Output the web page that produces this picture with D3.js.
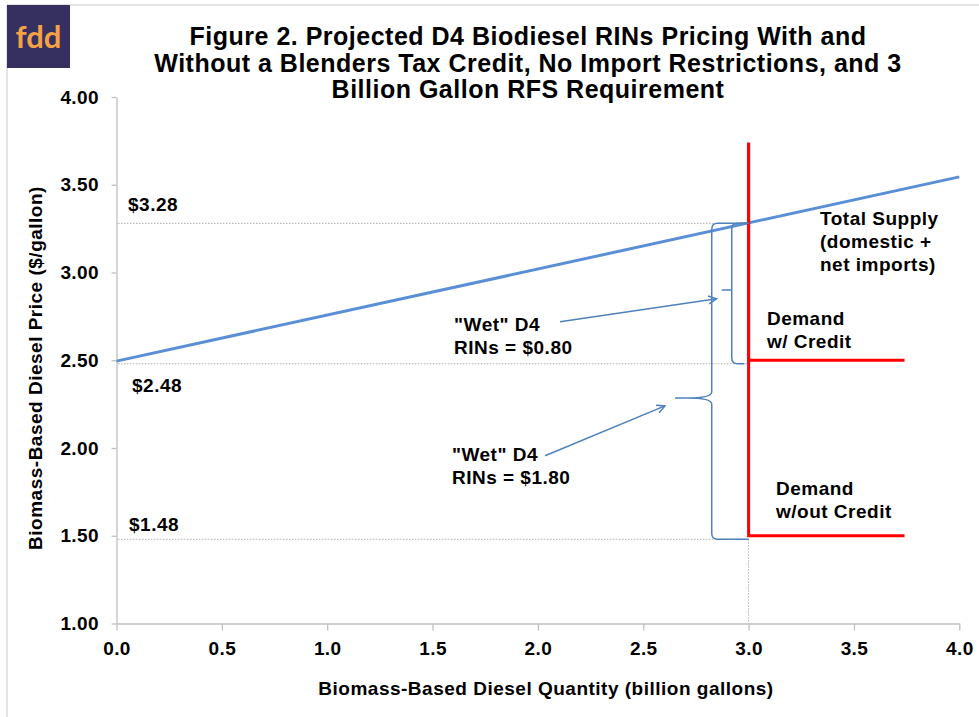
<!DOCTYPE html>
<html lang="en">
  <head>
    <meta charset="UTF-8" />
    <title>Figure 2</title>
    <script src="https://cdn.jsdelivr.net/npm/d3@7"></script>
    <style>
      body { margin: 0; background: #fff; }
      svg { display: block; font-family: "Liberation Sans", Arial, sans-serif; }
      .axis text { font-size: 19px; font-weight: bold; fill: #000; letter-spacing: 0.4px; }
      .axis path, .axis line { stroke: #bfbfbf; stroke-width: 1.3; }
      .note { font-size: 19px; font-weight: bold; fill: #000; letter-spacing: 0.5px; }
    </style>
  </head>
  <body>
    <svg width="979" height="717"></svg>
    <script>
      // data
      const supplyQty = [0, 4];
      const supplyPrice = [2.495, 3.545];
      const demandWithCredit = [[3.0, 3.74], [3.0, 2.5], [3.74, 2.5]];
      const demandWithoutCredit = [[3.0, 3.74], [3.0, 1.5], [3.74, 1.5]];
      const refPrices = [3.28, 2.48, 1.48];
      const refLabels = ["$3.28", "$2.48", "$1.48"];
      const rfsQty = 3.0;
      const xTicks = [0, 0.5, 1, 1.5, 2, 2.5, 3, 3.5, 4];
      const yTicks = [1, 1.5, 2, 2.5, 3, 3.5, 4];
      // braces: vertical at q, spans low..high, tip at (tipQ, tipP)
      const braces = [
        { q: 2.825, low: 1.48, high: 3.28, tipQ: 2.651, tipP: 2.285, endLow: 3.0, endHigh: 3.0 },
        { q: 2.92, low: 2.48, high: 3.28, tipQ: 2.872, tipP: 2.9, endLow: 2.98, endHigh: 3.0 }
      ];
      const arrows = [
        { from: [2.105, 2.72], to: [2.848, 2.85] },
        { from: [2.034, 1.956], to: [2.603, 2.24] }
      ];
      const notes = [
        { q: 3.339, p: 3.271, lines: ["Total Supply", "(domestic +", "net imports)"] },
        { q: 3.087, p: 2.70, lines: ["Demand", "w/ Credit"] },
        { q: 3.13, p: 1.732, lines: ["Demand", "w/out Credit"] },
        { q: 1.602, p: 2.667, lines: ["\"Wet\" D4", "RINs = $0.80"] },
        { q: 1.592, p: 1.926, lines: ["\"Wet\" D4", "RINs = $1.80"] }
      ];
      const titleLines = [
        "Figure 2. Projected D4 Biodiesel RINs Pricing With and",
        "Without a Blenders Tax Credit, No Import Restrictions, and 3",
        "Billion Gallon RFS Requirement"
      ];

      const svg = d3.select("svg");
      const x = d3.scaleLinear().domain([0, 4]).range([116.5, 959.3]);
      const y = d3.scaleLinear().domain([1, 4]).range([623.5, 97]);
      const blue = "#5a8fd6", thin = "#4f81bd", red = "#ff0000";

      // outer frame
      svg.append("path").attr("d", "M7,717 L7,5 L979,5")
        .attr("fill", "none").attr("stroke", "#c8c8c8").attr("stroke-width", 1);

      // logo
      svg.append("rect").attr("x", 7).attr("y", 5).attr("width", 63).attr("height", 63).attr("fill", "#35305f");
      svg.append("text").attr("x", 38.5).attr("y", 48).attr("text-anchor", "middle")
        .attr("font-family", "Lato, 'Noto Sans', sans-serif").attr("font-size", 31).attr("font-weight", "bold")
        .attr("fill", "#f4a245").text("fdd");

      // title
      svg.append("text").attr("x", 528).attr("y", 45).attr("text-anchor", "middle")
        .attr("font-size", 25).attr("font-weight", "bold").attr("letter-spacing", 0.5)
        .selectAll("tspan").data(titleLines).join("tspan")
        .attr("x", 528).attr("dy", (d, i) => i ? 26.5 : 0).text(d => d);

      // axes
      const yAxis = d3.axisLeft(y).tickValues(yTicks).tickFormat(d3.format(".2f"))
        .tickSize(5).tickSizeOuter(0).tickPadding(12.5);
      const xAxis = d3.axisBottom(x).tickValues(xTicks).tickFormat(d3.format(".1f"))
        .tickSize(7).tickSizeOuter(0).tickPadding(11);
      svg.append("g").attr("class", "axis").attr("transform", "translate(116.5,0)").call(yAxis);
      svg.append("g").attr("class", "axis").attr("transform", "translate(0,623.5)").call(xAxis);
      svg.selectAll(".axis").attr("font-family", null).attr("font-size", null);

      svg.append("text").attr("class", "note").attr("text-anchor", "middle")
        .attr("font-size", 18.5).attr("letter-spacing", 0.4)
        .attr("transform", "translate(42,368) rotate(-90)").text("Biomass-Based Diesel Price ($/gallon)");
      svg.append("text").attr("class", "note").attr("text-anchor", "middle")
        .attr("x", 546).attr("y", 695).text("Biomass-Based Diesel Quantity (billion gallons)");

      // dotted reference lines
      svg.selectAll(".ref").data(refPrices).join("line").attr("class", "ref")
        .attr("x1", x(0) + 1.5).attr("x2", x(rfsQty)).attr("y1", d => y(d)).attr("y2", d => y(d))
        .attr("stroke", "#b0b0b0").attr("stroke-width", 1).attr("stroke-dasharray", "1.5,1.5");
      svg.append("line").attr("x1", x(rfsQty)).attr("x2", x(rfsQty))
        .attr("y1", y(d3.min(refPrices))).attr("y2", y(1))
        .attr("stroke", "#b0b0b0").attr("stroke-width", 1).attr("stroke-dasharray", "1.5,1.5");
      const refOffsets = [-12, 28, -8];
      const refShift = [11.5, 15.5, 12.5];
      svg.selectAll(".refLabel").data(refLabels).join("text").attr("class", "note")
        .attr("x", (d, i) => x(0) + refShift[i]).attr("y", (d, i) => y(refPrices[i]) + refOffsets[i]).text(d => d);

      // supply line
      const line = d3.line().x(d => x(d[0])).y(d => y(d[1]));
      svg.append("path").attr("d", line(d3.zip(supplyQty, supplyPrice)))
        .attr("fill", "none").attr("stroke", blue).attr("stroke-width", 3);

      // demand lines
      [demandWithCredit, demandWithoutCredit].forEach(dm => {
        svg.append("path").attr("d", line(dm)).attr("fill", "none")
          .attr("stroke", red).attr("stroke-width", 3).attr("stroke-linejoin", "miter");
      });

      // braces
      const r = 6;
      braces.forEach(b => {
        const bx = x(b.q), yt = y(b.high), yb = y(b.low), ym = y(b.tipP), tx = x(b.tipQ);
        const p = d3.path();
        p.moveTo(x(b.endHigh), yt);
        p.lineTo(bx + r, yt);
        p.quadraticCurveTo(bx, yt, bx, yt + r);
        p.lineTo(bx, ym - r);
        p.quadraticCurveTo(bx, ym, tx + Math.min(r * 2, bx - tx), ym);
        p.lineTo(tx, ym);
        p.moveTo(tx + Math.min(r * 2, bx - tx), ym);
        p.quadraticCurveTo(bx, ym, bx, ym + r);
        p.lineTo(bx, yb - r);
        p.quadraticCurveTo(bx, yb, bx + r, yb);
        p.lineTo(x(b.endLow), yb);
        svg.append("path").attr("d", p.toString()).attr("fill", "none")
          .attr("stroke", thin).attr("stroke-width", 1.5);
      });

      // arrows
      svg.append("defs").append("marker").attr("id", "head")
        .attr("viewBox", "0 0 10 10").attr("refX", 9).attr("refY", 5)
        .attr("markerWidth", 10).attr("markerHeight", 10).attr("markerUnits", "userSpaceOnUse")
        .attr("orient", "auto")
        .append("path").attr("d", "M1,1 L9,5 L1,9").attr("fill", "none")
        .attr("stroke", thin).attr("stroke-width", 1.5);
      svg.selectAll(".arrow").data(arrows).join("line").attr("class", "arrow")
        .attr("x1", d => x(d.from[0])).attr("y1", d => y(d.from[1]))
        .attr("x2", d => x(d.to[0])).attr("y2", d => y(d.to[1]))
        .attr("stroke", thin).attr("stroke-width", 1.5).attr("marker-end", "url(#head)");

      // annotations
      notes.forEach(n => {
        svg.append("text").attr("class", "note").attr("y", y(n.p))
          .selectAll("tspan").data(n.lines).join("tspan")
          .attr("x", x(n.q)).attr("dy", (d, i) => i ? 23 : 0).text(d => d);
      });
    </script>
  </body>
</html>
